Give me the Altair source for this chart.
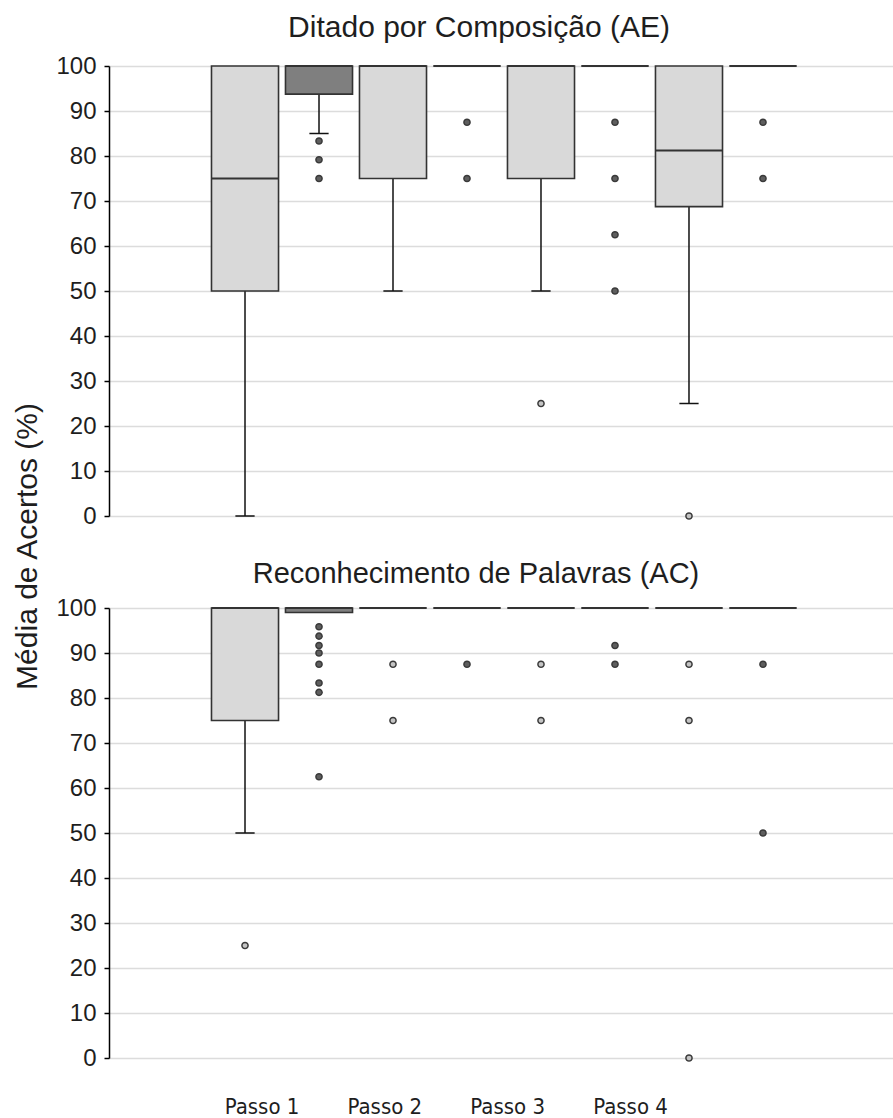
import altair as alt
import pandas as pd

# Eight boxes per panel: two groups (light / dark) for each of the four steps
box_step = ["Passo 1", "Passo 1", "Passo 2", "Passo 2", "Passo 3", "Passo 3", "Passo 4", "Passo 4"]
box_group = ["claro", "escuro", "claro", "escuro", "claro", "escuro", "claro", "escuro"]
step_labels = ["Passo 1", "Passo 2", "Passo 3", "Passo 4"]

# Ditado por Composição (AE) — box statistics (%)
ae_low = [0, 85, 50, 100, 50, 100, 25, 100]
ae_q1 = [50, 93.75, 75, 100, 75, 100, 68.75, 100]
ae_median = [75, 100, 100, 100, 100, 100, 81.25, 100]
ae_q3 = [100, 100, 100, 100, 100, 100, 100, 100]
ae_outliers = [
    [],
    [83.33, 79.17, 75],
    [],
    [87.5, 75],
    [25],
    [87.5, 75, 62.5, 50],
    [0],
    [87.5, 75],
]

# Reconhecimento de Palavras (AC) — box statistics (%)
ac_low = [50, 99, 100, 100, 100, 100, 100, 100]
ac_q1 = [75, 99, 100, 100, 100, 100, 100, 100]
ac_median = [100, 100, 100, 100, 100, 100, 100, 100]
ac_q3 = [100, 100, 100, 100, 100, 100, 100, 100]
ac_outliers = [
    [25],
    [95.83, 93.75, 91.67, 90, 87.5, 83.33, 81.25, 62.5],
    [87.5, 75],
    [87.5],
    [87.5, 75],
    [91.67, 87.5],
    [87.5, 75, 0],
    [87.5, 50],
]

FONT = "Liberation Sans, Arial, Helvetica, sans-serif"
NARROW = "Liberation Sans Narrow, Arial Narrow, DejaVu Sans Condensed, Liberation Sans, sans-serif"
TEXT = "#1e1e1e"
PANEL_W = 784
PANEL_H = 450
X_DOMAIN = [-1.838, 8.757]
BOX_HALF = 0.453
CAP_HALF = 0.13
LABEL_START = 0.23
LABEL_STEP = 1.66

x_scale = alt.Scale(domain=X_DOMAIN, nice=False, zero=False)
y_scale = alt.Scale(domain=[0, 100], nice=False, zero=False)
fill_scale = alt.Scale(domain=["claro", "escuro"], range=["#d9d9d9", "#7f7f7f"])
dot_scale = alt.Scale(domain=["claro", "escuro"], range=["#c4c4c4", "#5e5e5e"])


def stats_frame(low, q1, median, q3):
    return pd.DataFrame({
        "slot": list(range(len(box_step))),
        "passo": box_step,
        "grupo": box_group,
        "low": low,
        "q1": q1,
        "med": median,
        "q3": q3,
    })


def outlier_frame(outliers):
    rows = [
        {"slot": i, "passo": box_step[i], "grupo": box_group[i], "valor": v}
        for i, values in enumerate(outliers)
        for v in values
    ]
    return pd.DataFrame(rows)


def make_axis(with_title):
    kw = dict(
        values=list(range(0, 101, 10)),
        grid=True,
        gridColor="#dcdcdc",
        gridWidth=1.5,
        domainColor="#000000",
        domainWidth=1.5,
        tickColor="#000000",
        tickSize=5,
        tickWidth=1.5,
        labelFont=FONT,
        labelFontSize=24,
        labelColor=TEXT,
        labelPadding=8,
    )
    if with_title:
        kw.update(
            title="Média de Acertos (%)",
            titleFont=FONT,
            titleFontSize=30,
            titleFontWeight="normal",
            titleColor=TEXT,
            titleAngle=270,
            titleAlign="center",
            titleBaseline="middle",
            titleX=-82,
            titleY=480,
        )
    else:
        kw.update(title=None)
    return alt.Axis(**kw)


def panel(title_text, title_size, title_x, title_y, stats, outliers, with_title, step_text=False):
    axis = make_axis(with_title)

    def Y(field):
        return alt.Y(f"{field}:Q", scale=y_scale, axis=axis)

    base = alt.Chart(stats).transform_calculate(
        x0=f"datum.slot - {BOX_HALF}",
        x1=f"datum.slot + {BOX_HALF}",
        c0=f"datum.slot - {CAP_HALF}",
        c1=f"datum.slot + {CAP_HALF}",
    )

    whisker = base.transform_filter("datum.low < datum.q1").mark_rule(
        color="#111111", strokeWidth=1.5
    ).encode(
        x=alt.X("slot:Q", scale=x_scale, axis=None),
        y=Y("low"),
        y2="q1:Q",
    )

    cap = base.transform_filter("datum.low < datum.q1").mark_rule(
        color="#111111", strokeWidth=1.5
    ).encode(
        x=alt.X("c0:Q", scale=x_scale, axis=None),
        x2="c1:Q",
        y=Y("low"),
    )

    box = base.mark_rect(stroke="#333333", strokeWidth=1.6).encode(
        x=alt.X("x0:Q", scale=x_scale, axis=None),
        x2="x1:Q",
        y=Y("q1"),
        y2="q3:Q",
        fill=alt.Fill("grupo:N", scale=fill_scale, legend=None),
    )

    median = base.mark_rule(color="#333333", strokeWidth=2).encode(
        x=alt.X("x0:Q", scale=x_scale, axis=None),
        x2="x1:Q",
        y=Y("med"),
    )

    dots = alt.Chart(outlier_frame(outliers)).mark_circle(
        size=38, stroke="#3a3a3a", strokeWidth=1.5, opacity=1
    ).encode(
        x=alt.X("slot:Q", scale=x_scale, axis=None),
        y=Y("valor"),
        fill=alt.Fill("grupo:N", scale=dot_scale, legend=None),
    )

    heading = alt.Chart(pd.DataFrame({"titulo": [title_text]})).mark_text(
        font=FONT, fontSize=title_size, color=TEXT, align="center", baseline="alphabetic"
    ).encode(
        x=alt.value(title_x),
        y=alt.value(title_y),
        text="titulo:N",
    )

    layers = [whisker, cap, box, median, dots, heading]

    if step_text:
        labels = alt.Chart(
            pd.DataFrame({"passo": step_labels, "i": list(range(len(step_labels)))})
        ).transform_calculate(
            pos=f"{LABEL_START} + {LABEL_STEP} * datum.i"
        ).mark_text(
            font=NARROW, fontSize=22, color=TEXT, align="center", baseline="alphabetic"
        ).encode(
            x=alt.X("pos:Q", scale=x_scale, axis=None),
            y=alt.value(PANEL_H + 56),
            text="passo:N",
        )
        layers.append(labels)

    return alt.layer(*layers).resolve_scale(fill="independent").properties(
        width=PANEL_W,
        height=PANEL_H,
    )


top = panel("Ditado por Composição (AE)", 30, 370, -29,
            stats_frame(ae_low, ae_q1, ae_median, ae_q3), ae_outliers, with_title=True)
bottom = panel("Reconhecimento de Palavras (AC)", 29, 367, -25,
               stats_frame(ac_low, ac_q1, ac_median, ac_q3), ac_outliers,
               with_title=False, step_text=True)

chart = alt.vconcat(top, bottom, spacing=92, bounds="flush").configure_view(
    stroke=None
).properties(
    background="white",
    padding={"left": 12, "top": 13, "right": 0, "bottom": 0},
)

chart.save("out.html", embed_options={"renderer": "svg", "actions": False})
